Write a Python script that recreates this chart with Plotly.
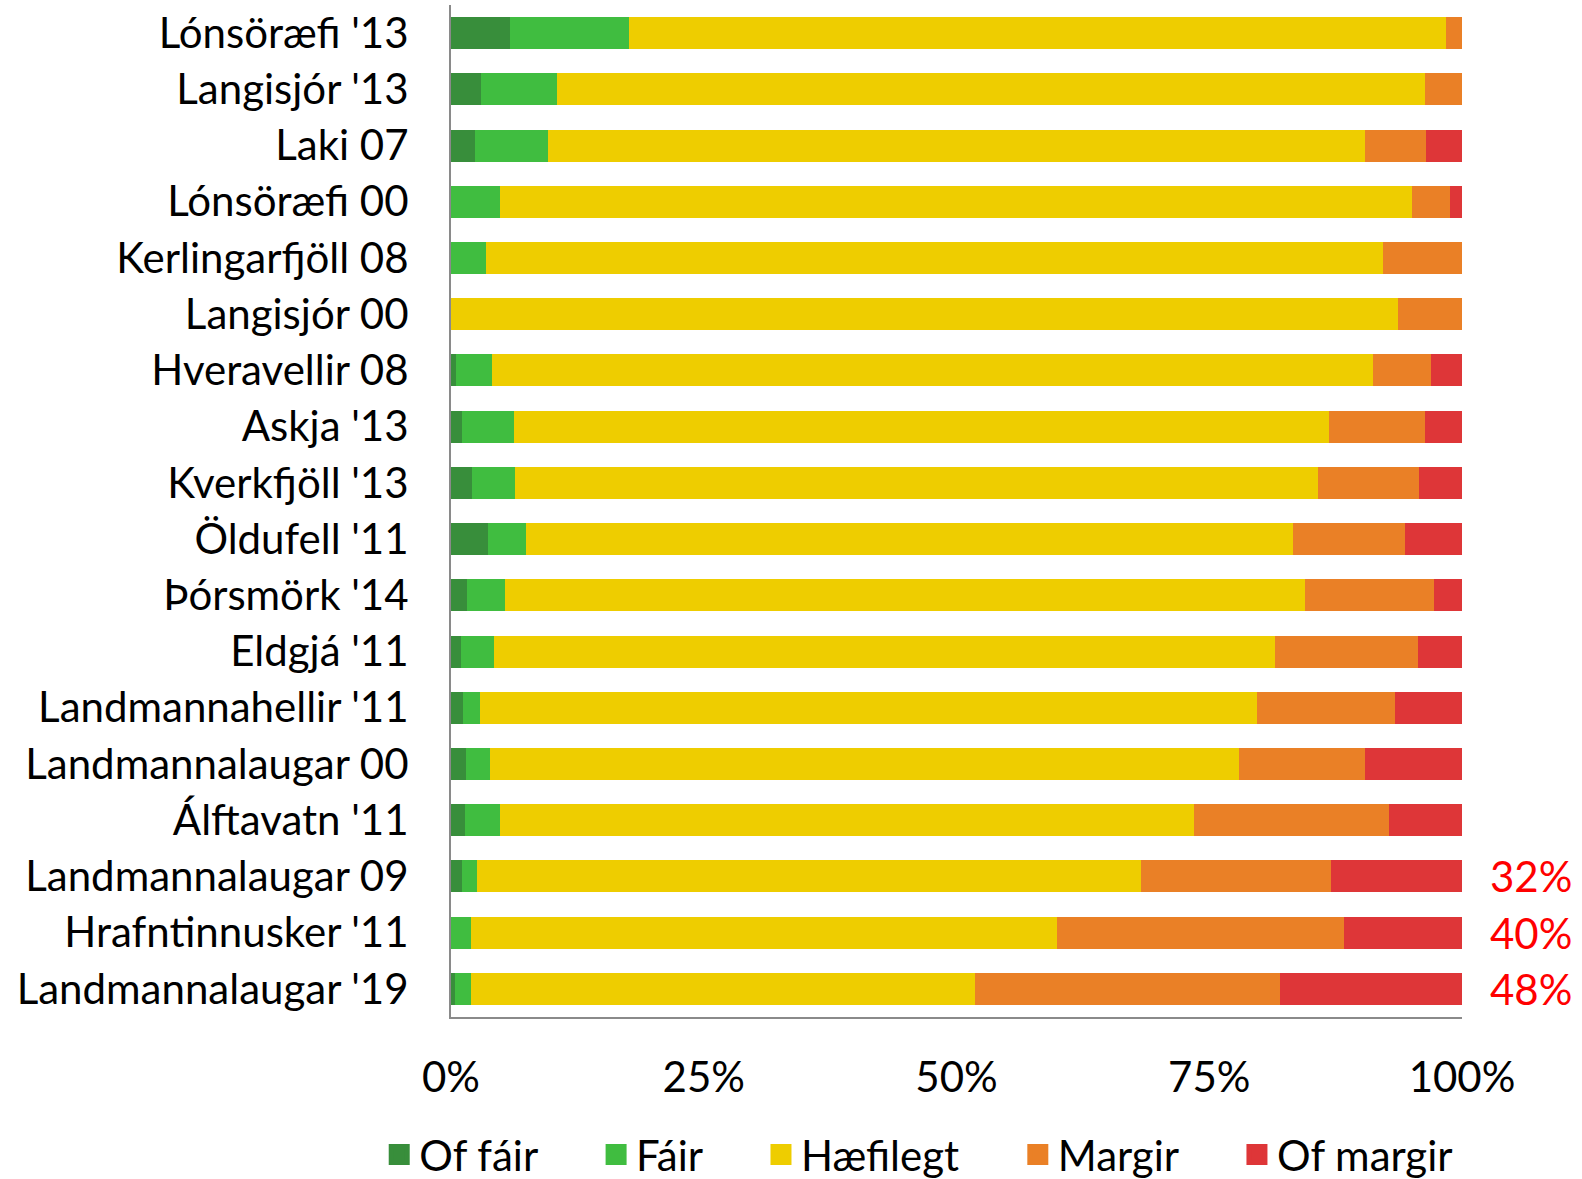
import plotly.graph_objects as go

categories = [
    "Lónsöræfi '13", "Langisjór '13", "Laki 07", "Lónsöræfi 00", "Kerlingarfjöll 08",
    "Langisjór 00", "Hveravellir 08", "Askja '13", "Kverkfjöll '13", "Öldufell '11",
    "Þórsmörk '14", "Eldgjá '11", "Landmannahellir '11", "Landmannalaugar 00",
    "Álftavatn '11", "Landmannalaugar 09", "Hrafntinnusker '11", "Landmannalaugar '19",
]

of_fair = [5.8, 3.0, 2.4, 0.0, 0.0, 0.0, 0.5, 1.1, 2.1, 3.7, 1.6, 1.0, 1.2, 1.5, 1.4, 1.1, 0.0, 0.4]
fair = [11.8, 7.5, 7.2, 4.8, 3.5, 0.0, 3.6, 5.1, 4.2, 3.7, 3.7, 3.3, 1.7, 2.4, 3.4, 1.5, 2.0, 1.55]
haefilegt = [80.8, 85.8, 80.8, 90.3, 88.7, 93.7, 87.1, 80.6, 79.5, 75.9, 79.2, 77.2, 76.8, 74.0, 68.7, 65.6, 57.9, 49.85]
margir = [1.6, 3.7, 6.0, 3.7, 7.8, 6.3, 5.7, 9.5, 9.9, 11.1, 12.7, 14.1, 13.7, 12.5, 19.3, 18.8, 28.4, 30.2]
of_margir = [0.0, 0.0, 3.6, 1.2, 0.0, 0.0, 3.1, 3.7, 4.3, 5.6, 2.8, 4.4, 6.6, 9.6, 7.2, 13.0, 11.7, 18.0]

series_names = ["Of fáir", "Fáir", "Hæfilegt", "Margir", "Of margir"]
series_values = [of_fair, fair, haefilegt, margir, of_margir]
series_colors = ["#388E3B", "#40BD40", "#EECD00", "#EA8026", "#DE3638"]

x_ticks = [0, 25, 50, 75, 100]
x_tick_labels = ["0%", "25%", "50%", "75%", "100%"]

# rows annotated with share of "Margir" + "Of margir"
annotated_rows = ["Landmannalaugar 09", "Hrafntinnusker '11", "Landmannalaugar '19"]

FONT = "Lato, Carlito, Calibri, sans-serif"
FS = 42
PAD = "\u00a0" * 5  # extra space between legend entries

fig = go.Figure()
for name, vals, col in zip(series_names, series_values, series_colors):
    fig.add_trace(go.Bar(
        y=categories, x=vals, name=name, orientation="h",
        marker=dict(color=col, line=dict(width=0)),
        showlegend=False,
    ))
# legend entries with larger square symbols
for k, (name, col) in enumerate(zip(series_names, series_colors)):
    label = name + (PAD if k < len(series_names) - 1 else "")
    fig.add_trace(go.Scatter(
        x=[None], y=[None], mode="markers", name=label,
        marker=dict(symbol="square", size=16, color=col, line=dict(color=col, width=5)),
        showlegend=True,
    ))

for cat in annotated_rows:
    i = categories.index(cat)
    share = margir[i] + of_margir[i]
    fig.add_annotation(
        x=100, y=cat, xref="x", yref="y", text=f"{round(share):.0f}%",
        showarrow=False, xanchor="left", xshift=26,
        font=dict(family=FONT, size=FS, color="#FF0000"),
    )

fig.update_layout(
    width=1582, height=1179,
    barmode="stack", bargap=0.43,
    plot_bgcolor="white", paper_bgcolor="white",
    margin=dict(l=451, r=120, t=5, b=162, autoexpand=False),
    font=dict(family=FONT, size=FS, color="black"),
    showlegend=True,
    legend=dict(
        orientation="h", x=-0.071, xanchor="left",
        y=-0.136, yanchor="middle",
        font=dict(family=FONT, size=FS), itemsizing="trace", traceorder="normal",
        itemwidth=30, tracegroupgap=0,
    ),
)
fig.update_xaxes(
    range=[0, 100], tickvals=x_ticks, ticktext=x_tick_labels,
    showgrid=False, zeroline=False, showline=True, linecolor="#8A8A8A", linewidth=2,
    ticks="", ticklabelstandoff=23, automargin=False,
)
fig.update_yaxes(
    categoryorder="array", categoryarray=categories, autorange="reversed",
    showgrid=False, zeroline=False, showline=True, linecolor="#8A8A8A", linewidth=2,
    ticks="", ticklabelstandoff=32, automargin=False,
)

fig.write_html(
    "out.html",
    config={"displayModeBar": False},
    post_script="document.body.style.margin='0';",
)
